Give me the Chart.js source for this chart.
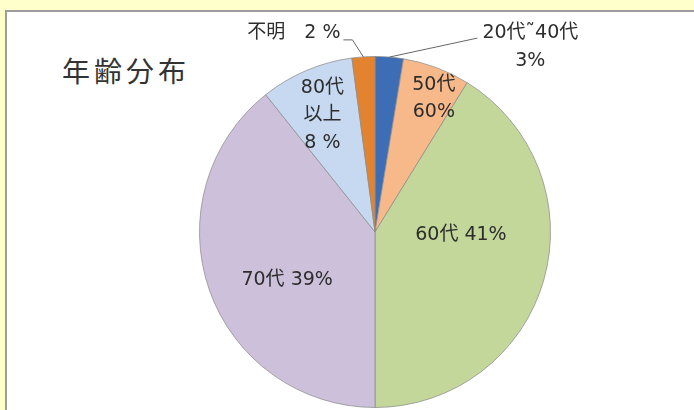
<!DOCTYPE html>
<html>
<head>
<meta charset="utf-8">
<script src="https://cdn.jsdelivr.net/npm/chart.js@4/dist/chart.umd.min.js"></script>
<style>
  html, body { margin: 0; padding: 0; }
  body { width: 694px; height: 410px; background: #ffffcc; overflow: hidden; position: relative; }
  #box { position: absolute; left: 5px; top: 10px; width: 700px; height: 420px; background: #fff;
         border-left: 2px solid #9c9c9c; border-top: 2px solid #9c9c9c; }
  #title { position: absolute; left: 62px; top: 50px; font: 28px "Noto Sans CJK JP", sans-serif;
           color: #333; letter-spacing: 4px; }
  #wrap { position: absolute; left: 0; top: 0; width: 694px; height: 410px; }
</style>
</head>
<body>
<div id="box"></div>
<div id="title">年齢分布</div>
<div id="wrap"><canvas id="pie"></canvas></div>
<script>
// age groups, clockwise from 12 o'clock
const categories = ['20代~40代', '50代', '60代', '70代', '80代以上', '不明'];
// slice shares (%)
const shares = [2.6, 6.2, 41.2, 39.3, 8.6, 2.1];
// label text as printed on the chart
const labelText = [
    ['20代˜40代', '3%'],
    ['50代', '60%'],
    ['60代 41%'],
    ['70代 39%'],
    ['80代', '以上', '8 %'],
    ['不明　2 %']
];
const colors = ['#3d6db4', '#f8b98a', '#c4d79b', '#ccc0da', '#c6d9f0', '#e3832f'];

// where each label sits: inside (fraction of radius, angle nudge in deg) or outside with a leader
const placement = [
    { out: true, elbow: [88, -19], text: [141, -24], align: 'center' },
    { frac: 0.83, turn: 3.3 },
    { frac: 0.49, turn: -14 },
    { frac: 0.57, turn: -9.3 },
    { frac: 0.73, turn: -1.2 },
    { out: true, elbow: [-11, -17], tail: [-20, -17], text: [-23, -24], align: 'right' }
];

const sliceLabels = {
    id: 'sliceLabels',
    afterDatasetsDraw(chart) {
        const ctx = chart.ctx;
        const arcs = chart.getDatasetMeta(0).data;
        const lh = 27.5;
        ctx.save();
        ctx.font = '19px "DejaVu Sans", "Noto Sans CJK JP", sans-serif';
        ctx.fillStyle = '#2d2d2d';
        ctx.textBaseline = 'middle';
        arcs.forEach((arc, i) => {
            const p = placement[i];
            const lines = labelText[i];
            const mid = (arc.startAngle + arc.endAngle) / 2;
            if (p.out) {
                const ax = arc.x + Math.cos(mid) * arc.outerRadius;
                const ay = arc.y + Math.sin(mid) * arc.outerRadius;
                ctx.strokeStyle = '#666';
                ctx.lineWidth = 1;
                ctx.beginPath();
                ctx.moveTo(ax, ay);
                ctx.lineTo(ax + p.elbow[0], ay + p.elbow[1]);
                if (p.tail) ctx.lineTo(ax + p.tail[0], ay + p.tail[1]);
                ctx.stroke();
                ctx.textAlign = p.align;
                lines.forEach((t, k) => ctx.fillText(t, ax + p.text[0], ay + p.text[1] + k * lh));
            } else {
                const a = mid + p.turn * Math.PI / 180;
                const cx = arc.x + Math.cos(a) * arc.outerRadius * p.frac;
                const cy = arc.y + Math.sin(a) * arc.outerRadius * p.frac;
                ctx.textAlign = 'center';
                const top = cy - (lines.length - 1) * lh / 2;
                lines.forEach((t, k) => ctx.fillText(t, cx, top + k * lh));
            }
        });
        ctx.restore();
    }
};

new Chart(document.getElementById('pie'), {
    type: 'pie',
    data: {
        labels: categories,
        datasets: [{
            data: shares,
            backgroundColor: colors,
            borderColor: 'rgba(140,140,140,0.75)',
            borderWidth: 1
        }]
    },
    options: {
        responsive: true,
        maintainAspectRatio: false,
        animation: false,
        layout: { padding: { left: 150, right: 94, top: 56, bottom: 2 } },
        plugins: {
            legend: { display: false },
            tooltip: { enabled: false }
        }
    },
    plugins: [sliceLabels]
});
</script>
</body>
</html>
